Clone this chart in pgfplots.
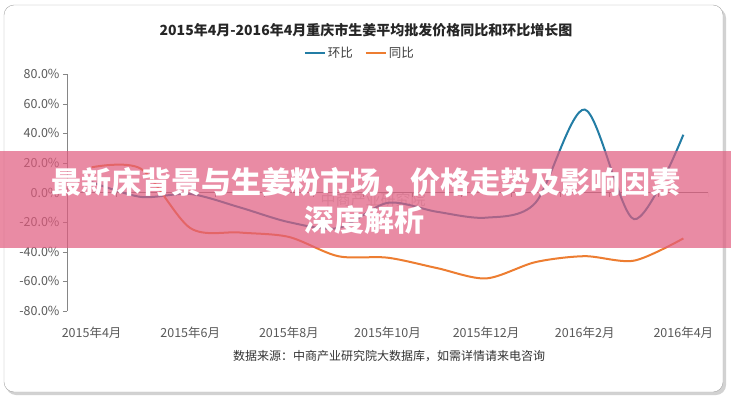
\documentclass[border=0pt]{standalone}
\usepackage{fontspec}
\setmainfont{Noto Sans CJK SC}
\usepackage{pgfplots}
\pgfplotsset{compat=1.18}

\definecolor{hbblue}{RGB}{35,125,165}
\definecolor{tborange}{RGB}{237,125,49}
\definecolor{axgray}{RGB}{134,134,134}
\definecolor{lblgray}{RGB}{89,89,89}
\definecolor{band}{RGB}{225,91,126}

\begin{document}
\begin{tikzpicture}[x=1pt,y=1pt]
\useasboundingbox (0,0) rectangle (731,400);
% card with shadow
\fill[gray!35, rounded corners=10pt] (6,5) rectangle (726,392);
\draw[gray!70, fill=white, rounded corners=10pt] (4,8) rectangle (723,395);

\node[font=\bfseries\fontsize{14}{16}\selectfont, text=black!85] at (366,370)
  {2015年4月-2016年4月重庆市生姜平均批发价格同比和环比增长图};

% watermark
\node[text=gray!40, font=\fontsize{15}{15}\selectfont] at (373,200) {中商产业研究院};

\begin{axis}[
  at={(67pt,89pt)}, anchor=south west,
  width=641pt, height=237pt, scale only axis,
  xmin=-0.5, xmax=12.5, ymin=-80, ymax=80,
  axis y line*=left, axis x line*=bottom,
  x axis line style={draw=none},
  axis line style={axgray},
  ytick={-80,-60,...,80},
  xtick={0,2,...,12},
  xticklabels={2015年4月,2015年6月,2015年8月,2015年10月,2015年12月,2016年2月,2016年4月},
  yticklabel={\pgfmathprintnumber[fixed,fixed zerofill,precision=1]{\tick}\%},
  /pgf/number format/assume math mode=true,
  tick label style={font=\fontsize{12.5}{14}\selectfont, text=lblgray},
  xtick style={draw=none},
  ytick style={axgray},
  tick align=outside, major tick length=4pt,
  xticklabel style={yshift=-8pt},
  legend style={at={(0.457,1)}, anchor=center, yshift=21pt, draw=none, fill=none,
    font=\fontsize{12.5}{14}\selectfont, text=black!75,
    /tikz/every even column/.append style={column sep=10pt}},
  legend columns=2,
  legend image code/.code={\draw[#1, line width=2pt] (0pt,0pt) -- (20pt,0pt);},
]
% zero line with category ticks
\addplot[axgray, forget plot] coordinates {(-0.5,0) (12.5,0)};
\addplot[axgray, ycomb, forget plot] coordinates {
  (-0.5,-3) (0.5,-3) (1.5,-3) (2.5,-3) (3.5,-3) (4.5,-3) (5.5,-3)
  (6.5,-3) (7.5,-3) (8.5,-3) (9.5,-3) (10.5,-3) (11.5,-3) (12.5,-3)};

\addplot[hbblue, line width=2pt, smooth] coordinates {
  (0,7) (1,-3) (2,-1) (3,-10) (4,-20) (5,-24) (6,-7)
  (7,-13) (8,-17) (9,-7) (10,56) (11,-18) (12,39)};
\addlegendentry{环比}
\addplot[tborange, line width=2pt, smooth] coordinates {
  (0,17) (1,16) (2,-24) (3,-27) (4,-30) (5,-43) (6,-44)
  (7,-51) (8,-58) (9,-47) (10,-43) (11,-46) (12,-31)};
\addlegendentry{同比}
\end{axis}

% overlay banner
\fill[band, opacity=0.7] (0,152) rectangle (731,249);
\node[white, font=\bfseries\fontsize{30}{30}\selectfont] at (366,217)
  {最新床背景与生姜粉市场，价格走势及影响因素};
\node[white, font=\bfseries\fontsize{30}{30}\selectfont] at (364,180) {深度解析};

\node[font=\fontsize{12}{14}\selectfont, text=black!80] at (389,44)
  {数据来源：中商产业研究院大数据库，如需详情请来电咨询};
\end{tikzpicture}
\end{document}
